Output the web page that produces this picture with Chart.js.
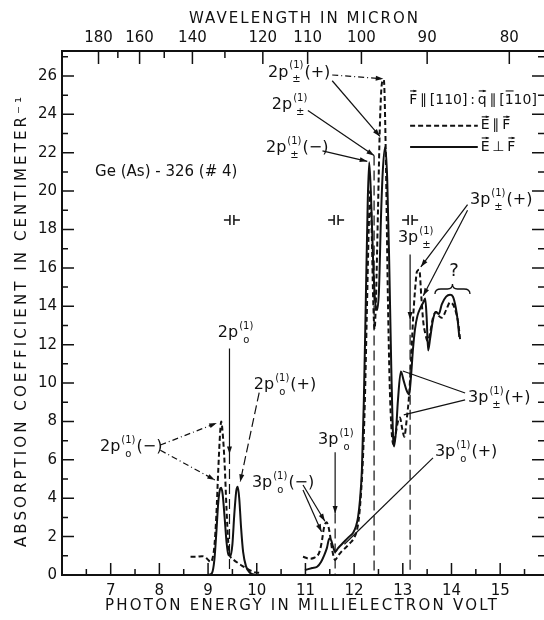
<!DOCTYPE html>
<html>
<head>
<meta charset="utf-8">
<script src="https://cdn.jsdelivr.net/npm/chart.js@4.4.1/dist/chart.umd.min.js"></script>
<style>
  html, body { margin: 0; padding: 0; background: #fff; }
  #spectrum { display: block; }
</style>
</head>
<body>
<canvas id="spectrum" width="544" height="620"></canvas>
<script>
// Ge(As) absorption spectrum under uniaxial stress F || [110]

// wavelength (micron) = C_LAMBDA / energy (meV), fitted to the figure's top scale
const C_LAMBDA = 1215;
const wavelengthTicks = [180, 160, 140, 120, 110, 100, 90, 80];
const wavelengthMinor = [170, 150, 130];
const energyTicks = [7, 8, 9, 10, 11, 12, 13, 14, 15];
const absTicks = [0, 2, 4, 6, 8, 10, 12, 14, 16, 18, 20, 22, 24, 26];

// E || F (dashed), low energy part
const parLowE = [8.64, 8.76, 8.88, 8.98, 9.05, 9.09, 9.13, 9.17, 9.21, 9.25, 9.27, 9.30, 9.34, 9.38, 9.42, 9.46, 9.52, 9.60, 9.70, 9.82, 9.95, 10.10];
const parLowA = [0.95, 0.95, 0.98, 0.85, 0.68, 0.85, 1.5, 3.1, 5.5, 7.5, 8.0, 7.4, 5.8, 3.4, 1.5, 0.95, 0.8, 0.65, 0.48, 0.3, 0.15, 0.1];

// E || F (dashed), high energy part
const parHighE = [10.95, 11.08, 11.18, 11.26, 11.30, 11.34, 11.38, 11.43, 11.47, 11.51, 11.55, 11.61, 11.67, 11.75, 11.84, 11.92, 12.00, 12.06, 12.10, 12.14, 12.18, 12.22, 12.26, 12.30, 12.33, 12.36, 12.39, 12.42, 12.45, 12.49, 12.53, 12.57, 12.61, 12.65, 12.69, 12.73, 12.77, 12.81, 12.85, 12.90, 12.94, 12.99, 13.03, 13.08, 13.13, 13.17, 13.21, 13.25, 13.29, 13.34, 13.38, 13.42, 13.46, 13.51, 13.56, 13.62, 13.68, 13.74, 13.80, 13.89, 13.97, 14.03, 14.09, 14.14, 14.18];
const parHighA = [0.95, 0.85, 0.9, 1.05, 1.3, 1.8, 2.45, 2.75, 2.55, 2.0, 1.3, 0.78, 1.0, 1.25, 1.46, 1.67, 1.93, 2.35, 3.0, 4.2, 6.0, 9.0, 13.5, 18.0, 20.0, 18.0, 14.5, 12.8, 14.5, 19.0, 23.5, 25.6, 25.8, 22.0, 15.0, 10.0, 7.5, 6.8, 7.3, 8.0, 8.2, 7.6, 7.2, 8.1, 9.4, 11.2, 13.3, 14.8, 15.8, 15.9, 14.5, 13.2, 12.6, 12.2, 12.6, 13.4, 13.7, 13.5, 13.4, 13.8, 14.2, 14.1, 13.7, 13.1, 12.2];

// E _|_ F (solid), low energy part
const perpLowE = [9.00, 9.08, 9.13, 9.17, 9.21, 9.25, 9.27, 9.30, 9.34, 9.38, 9.42, 9.46, 9.50, 9.54, 9.58, 9.61, 9.64, 9.68, 9.72, 9.78, 9.86, 9.98];
const perpLowA = [0, 0.1, 0.8, 2.2, 3.8, 4.5, 4.55, 4.2, 3.0, 1.7, 1.05, 1.0, 1.6, 3.2, 4.4, 4.6, 4.0, 2.4, 1.2, 0.45, 0.12, 0];

// E _|_ F (solid), high energy part
const perpHighE = [10.99, 11.14, 11.24, 11.32, 11.38, 11.44, 11.49, 11.53, 11.57, 11.61, 11.67, 11.73, 11.82, 11.90, 11.98, 12.04, 12.08, 12.12, 12.16, 12.20, 12.24, 12.28, 12.31, 12.35, 12.39, 12.43, 12.47, 12.51, 12.55, 12.59, 12.64, 12.68, 12.72, 12.76, 12.80, 12.82, 12.86, 12.90, 12.96, 13.02, 13.08, 13.13, 13.17, 13.21, 13.25, 13.30, 13.36, 13.42, 13.46, 13.49, 13.52, 13.56, 13.62, 13.68, 13.74, 13.80, 13.89, 13.97, 14.03, 14.09, 14.13, 14.16];
const perpHighA = [0.26, 0.36, 0.43, 0.68, 1.0, 1.4, 1.9, 1.8, 1.45, 1.2, 1.4, 1.56, 1.8, 2.0, 2.2, 2.55, 3.0, 3.9, 5.5, 9.1, 14.3, 19.5, 21.5, 19.5, 16.4, 14.3, 13.8, 14.8, 18.5, 21.1, 22.3, 20.6, 16.4, 11.2, 7.2, 6.7, 7.5, 9.1, 10.6, 10.1, 9.6, 9.4, 10.4, 11.8, 12.8, 13.5, 13.9, 14.2, 14.4, 13.4, 11.7, 12.3, 13.3, 13.7, 13.6, 14.1, 14.5, 14.6, 14.5, 13.9, 13.2, 12.4];

// annotations, in data units (meV, cm^-1)
const lineLabels = [
  { n: '2', sub: '±', tail: '(+)', e: 10.23, a: 26.16 },
  { n: '2', sub: '±', tail: '', e: 10.31, a: 24.49 },
  { n: '2', sub: '±', tail: '(−)', e: 10.19, a: 22.25 },
  { n: '3', sub: '±', tail: '', e: 12.90, a: 17.56 },
  { n: '3', sub: '±', tail: '(+)', e: 14.38, a: 19.54 },
  { n: '2', sub: 'o', tail: '', e: 9.20, a: 12.61 },
  { n: '2', sub: 'o', tail: '(+)', e: 9.94, a: 9.90 },
  { n: '3', sub: '±', tail: '(+)', e: 14.34, a: 9.22 },
  { n: '2', sub: 'o', tail: '(−)', e: 6.78, a: 6.67 },
  { n: '3', sub: 'o', tail: '', e: 11.26, a: 7.03 },
  { n: '3', sub: 'o', tail: '(+)', e: 13.66, a: 6.41 },
  { n: '3', sub: 'o', tail: '(−)', e: 9.90, a: 4.79 }
];
// pointers: [from e, from a, to e, to a, dash, head]
const pointers = [
  [11.55, 26.05, 12.60, 25.85, [6, 3, 1, 3], true],
  [11.55, 25.75, 12.53, 22.85, [], true],
  [11.05, 24.20, 12.41, 21.85, [], true],
  [11.35, 22.10, 12.27, 21.55, [], true],
  [14.33, 19.30, 13.37, 16.05, [], true],
  [14.33, 19.00, 13.42, 14.55, [], true],
  [10.05, 9.50, 9.66, 4.85, [9, 4], true],
  [8.02, 6.77, 9.18, 7.92, [6, 3, 1, 3], true],
  [8.02, 6.50, 9.14, 4.95, [6, 3, 1, 3], true],
  [10.95, 4.69, 11.40, 2.80, [], true],
  [10.95, 4.43, 11.33, 2.25, [], true],
  [13.62, 6.10, 11.80, 1.60, [], false],
  [14.28, 9.48, 13.00, 10.63, [], false],
  [14.28, 9.12, 13.02, 8.34, [], false]
];
// unperturbed line positions: energy, top of marker, arrow head
const markers = [
  [9.44, 11.8, 6.3],
  [11.61, 6.4, 3.2],
  [12.41, 21.85, null],
  [13.15, 16.7, 13.3]
];
const resolutionMarks = [9.49, 11.63, 13.15];

const FONT = '"DejaVu Sans", sans-serif';

function toPoints(xs, ys) {
  return xs.map((x, i) => ({ x: x, y: ys[i] }));
}

function drawHead(ctx, x1, y1, x2, y2, L) {
  const ang = Math.atan2(y2 - y1, x2 - x1);
  const len = L || 8, W = 0.32;
  ctx.beginPath();
  ctx.moveTo(x2, y2);
  ctx.lineTo(x2 - len * Math.cos(ang - W), y2 - len * Math.sin(ang - W));
  ctx.lineTo(x2 - len * Math.cos(ang + W), y2 - len * Math.sin(ang + W));
  ctx.closePath();
  ctx.fill();
}

function drawOrbital(ctx, x, y, lab) {
  ctx.textBaseline = 'middle';
  ctx.textAlign = 'left';
  ctx.font = '16px ' + FONT;
  const base = lab.n + 'p';
  ctx.fillText(base, x, y);
  let cx = x + ctx.measureText(base).width + 1;
  ctx.font = '10px ' + FONT;
  const w1 = ctx.measureText('(1)').width;
  const w2 = ctx.measureText(lab.sub).width;
  ctx.fillText('(1)', cx, y - 7);
  ctx.fillText(lab.sub, cx + (w1 - w2) / 2, y + 7);
  cx += w1 + 1;
  if (lab.tail) {
    ctx.font = '16px ' + FONT;
    ctx.fillText(lab.tail, cx, y);
  }
}

// letter with a vector arrow on top, returns advance width
function vecLetter(ctx, ch, x, y) {
  ctx.fillText(ch, x, y);
  const w = ctx.measureText(ch).width;
  ctx.beginPath();
  ctx.moveTo(x + 1, y - 9);
  ctx.lineTo(x + w - 1, y - 9);
  ctx.stroke();
  drawHead(ctx, x + 1, y - 9, x + w, y - 9, 4);
  return w;
}

function textRun(ctx, s, x, y) {
  ctx.fillText(s, x, y);
  return ctx.measureText(s).width;
}

// caps title stretched between two points, like the hand lettering
function spacedText(ctx, s, x0, x1, y) {
  ctx.letterSpacing = '0px';
  const natural = ctx.measureText(s).width;
  const gap = (x1 - x0 - natural) / (s.length - 1);
  ctx.letterSpacing = gap.toFixed(2) + 'px';
  ctx.textAlign = 'left';
  ctx.fillText(s, x0, y);
  ctx.letterSpacing = '0px';
}

const decor = {
  id: 'decor',
  afterDraw(chart) {
    const { ctx, chartArea: area, scales } = chart;
    const sx = scales.x, sy = scales.y, st = scales.x2;
    const px = (e) => sx.getPixelForValue(e);
    const py = (a) => sy.getPixelForValue(a);
    ctx.save();
    ctx.strokeStyle = '#111';
    ctx.fillStyle = '#111';

    // axis titles
    ctx.font = '15px ' + FONT;
    ctx.textBaseline = 'middle';
    spacedText(ctx, 'PHOTON ENERGY IN MILLIELECTRON VOLT', 105, 497, 606);
    spacedText(ctx, 'WAVELENGTH IN MICRON', 189, 418, 19);
    ctx.save();
    ctx.translate(22, 322);
    ctx.rotate(-Math.PI / 2);
    spacedText(ctx, 'ABSORPTION COEFFICIENT IN CENTIMETER⁻¹', -225, 225, 0);
    ctx.restore();

    // inward tick marks on all four sides
    ctx.lineWidth = 1.5;
    ctx.beginPath();
    for (let v = 6.5; v < sx.max; v += 0.5) {
      const len = Number.isInteger(v) ? 12 : 6;
      const x = px(v);
      ctx.moveTo(x, area.bottom); ctx.lineTo(x, area.bottom - len);
    }
    for (let v = 1; v < sy.max; v += 1) {
      const len = v % 2 === 0 ? 12 : 6;
      const y = py(v);
      ctx.moveTo(area.left, y); ctx.lineTo(area.left + len, y);
      ctx.moveTo(area.right, y); ctx.lineTo(area.right - len, y);
    }
    wavelengthTicks.forEach(l => {
      const x = st.getPixelForValue(C_LAMBDA / l);
      ctx.moveTo(x, area.top); ctx.lineTo(x, area.top + 13);
    });
    wavelengthMinor.forEach(l => {
      const x = st.getPixelForValue(C_LAMBDA / l);
      ctx.moveTo(x, area.top); ctx.lineTo(x, area.top + 7);
    });
    ctx.stroke();

    // unperturbed line markers
    ctx.lineWidth = 1.2;
    markers.forEach(m => {
      const x = px(m[0]);
      if (m[2] !== null) {
        ctx.setLineDash([]);
        ctx.beginPath(); ctx.moveTo(x, py(m[1])); ctx.lineTo(x, py(m[2])); ctx.stroke();
        drawHead(ctx, x, py(m[1]), x, py(m[2]));
        ctx.setLineDash([10, 5]);
        ctx.beginPath(); ctx.moveTo(x, py(m[2])); ctx.lineTo(x, area.bottom); ctx.stroke();
      } else {
        ctx.setLineDash([10, 5]);
        ctx.beginPath(); ctx.moveTo(x, py(m[1])); ctx.lineTo(x, area.bottom); ctx.stroke();
      }
    });
    ctx.setLineDash([]);

    // pointers from labels
    pointers.forEach(p => {
      const x1 = px(p[0]), y1 = py(p[1]), x2 = px(p[2]), y2 = py(p[3]);
      ctx.setLineDash(p[4]);
      ctx.beginPath(); ctx.moveTo(x1, y1); ctx.lineTo(x2, y2); ctx.stroke();
      ctx.setLineDash([]);
      if (p[5]) drawHead(ctx, x1, y1, x2, y2);
    });

    // resolution marks -| |-
    ctx.lineWidth = 1.5;
    resolutionMarks.forEach(e => {
      const x = px(e), y = py(18.5);
      ctx.beginPath();
      ctx.moveTo(x - 8, y); ctx.lineTo(x - 2, y);
      ctx.moveTo(x - 2, y - 5); ctx.lineTo(x - 2, y + 5);
      ctx.moveTo(x + 2, y - 5); ctx.lineTo(x + 2, y + 5);
      ctx.moveTo(x + 2, y); ctx.lineTo(x + 8, y);
      ctx.stroke();
    });

    // line labels
    lineLabels.forEach(l => drawOrbital(ctx, px(l.e), py(l.a), l));

    // sample name
    ctx.font = '15px ' + FONT;
    ctx.textBaseline = 'middle';
    ctx.fillText('Ge (As) - 326 (# 4)', px(6.68), py(21.0));

    // unidentified structure
    ctx.font = '18px ' + FONT;
    ctx.textAlign = 'center';
    ctx.fillText('?', px(14.05), py(15.8));
    ctx.textAlign = 'left';
    ctx.lineWidth = 1.3;
    const bl = px(13.66), br = px(14.38), bm = (bl + br) / 2, by = py(14.9);
    ctx.beginPath();
    ctx.moveTo(bl, by + 5);
    ctx.quadraticCurveTo(bl, by, bl + 6, by);
    ctx.lineTo(bm - 5, by);
    ctx.quadraticCurveTo(bm, by, bm, by - 5);
    ctx.quadraticCurveTo(bm, by, bm + 5, by);
    ctx.lineTo(br - 6, by);
    ctx.quadraticCurveTo(br, by, br, by + 5);
    ctx.stroke();

    // legend block
    ctx.font = '14px ' + FONT;
    ctx.textBaseline = 'middle';
    ctx.lineWidth = 1.1;
    let lx = px(13.13), ly = py(24.75);
    lx += vecLetter(ctx, 'F', lx, ly);
    lx += textRun(ctx, '\u2009∥\u2009[110]\u2009:\u2009', lx, ly);
    lx += vecLetter(ctx, 'q', lx, ly);
    lx += textRun(ctx, '\u2009∥\u2009[', lx, ly);
    const w1 = textRun(ctx, '1', lx, ly);
    ctx.beginPath(); ctx.moveTo(lx + 1, ly - 9); ctx.lineTo(lx + w1, ly - 9); ctx.stroke();
    lx += w1;
    textRun(ctx, '10]', lx, ly);

    const rows = [[23.4, [5, 3], '∥'], [22.3, [], '⊥']];
    rows.forEach(r => {
      const y = py(r[0]);
      ctx.lineWidth = 2;
      ctx.setLineDash(r[1]);
      ctx.beginPath(); ctx.moveTo(px(13.15), y); ctx.lineTo(px(14.54), y); ctx.stroke();
      ctx.setLineDash([]);
      ctx.lineWidth = 1.1;
      let tx = px(14.6);
      tx += vecLetter(ctx, 'E', tx, y);
      tx += textRun(ctx, '\u2009' + r[2] + '\u2009', tx, y);
      vecLetter(ctx, 'F', tx, y);
    });

    ctx.restore();
  }
};

const lineStyle = {
  showLine: true,
  borderColor: '#111',
  borderWidth: 2,
  pointRadius: 0,
  cubicInterpolationMode: 'monotone'
};

const tickFont = { family: FONT, size: 15 };

new Chart(document.getElementById('spectrum'), {
  type: 'scatter',
  data: {
    datasets: [
      Object.assign({ label: 'E || F', data: toPoints(parLowE, parLowA), borderDash: [5, 3] }, lineStyle),
      Object.assign({ label: 'E || F', data: toPoints(parHighE, parHighA), borderDash: [5, 3] }, lineStyle),
      Object.assign({ label: 'E _|_ F', data: toPoints(perpLowE, perpLowA) }, lineStyle),
      Object.assign({ label: 'E _|_ F', data: toPoints(perpHighE, perpHighA) }, lineStyle)
    ]
  },
  options: {
    responsive: false,
    animation: false,
    devicePixelRatio: 1,
    layout: { padding: 0 },
    plugins: { legend: { display: false }, tooltip: { enabled: false } },
    scales: {
      x: {
        type: 'linear',
        position: 'bottom',
        min: 6,
        max: 15.9,
        afterFit(s) { s.height = 45; },
        afterBuildTicks(s) { s.ticks = energyTicks.map(v => ({ value: v })); },
        grid: { display: false, drawTicks: false },
        border: { color: '#111', width: 2 },
        ticks: { color: '#111', font: tickFont, padding: 7 }
      },
      x2: {
        type: 'linear',
        position: 'top',
        min: 6,
        max: 15.9,
        afterFit(s) { s.height = 51; },
        afterBuildTicks(s) { s.ticks = wavelengthTicks.map(l => ({ value: C_LAMBDA / l })); },
        grid: { display: false, drawTicks: false },
        border: { color: '#111', width: 2 },
        ticks: {
          color: '#111',
          font: tickFont,
          padding: 4,
          callback: (v) => String(Math.round(C_LAMBDA / v))
        }
      },
      y: {
        min: 0,
        max: 27.3,
        afterFit(s) { s.width = 62; },
        afterBuildTicks(s) { s.ticks = absTicks.map(v => ({ value: v })); },
        grid: { display: false, drawTicks: false },
        border: { color: '#111', width: 2 },
        ticks: { color: '#111', font: tickFont, padding: 5 }
      }
    }
  },
  plugins: [decor]
});
</script>
</body>
</html>
